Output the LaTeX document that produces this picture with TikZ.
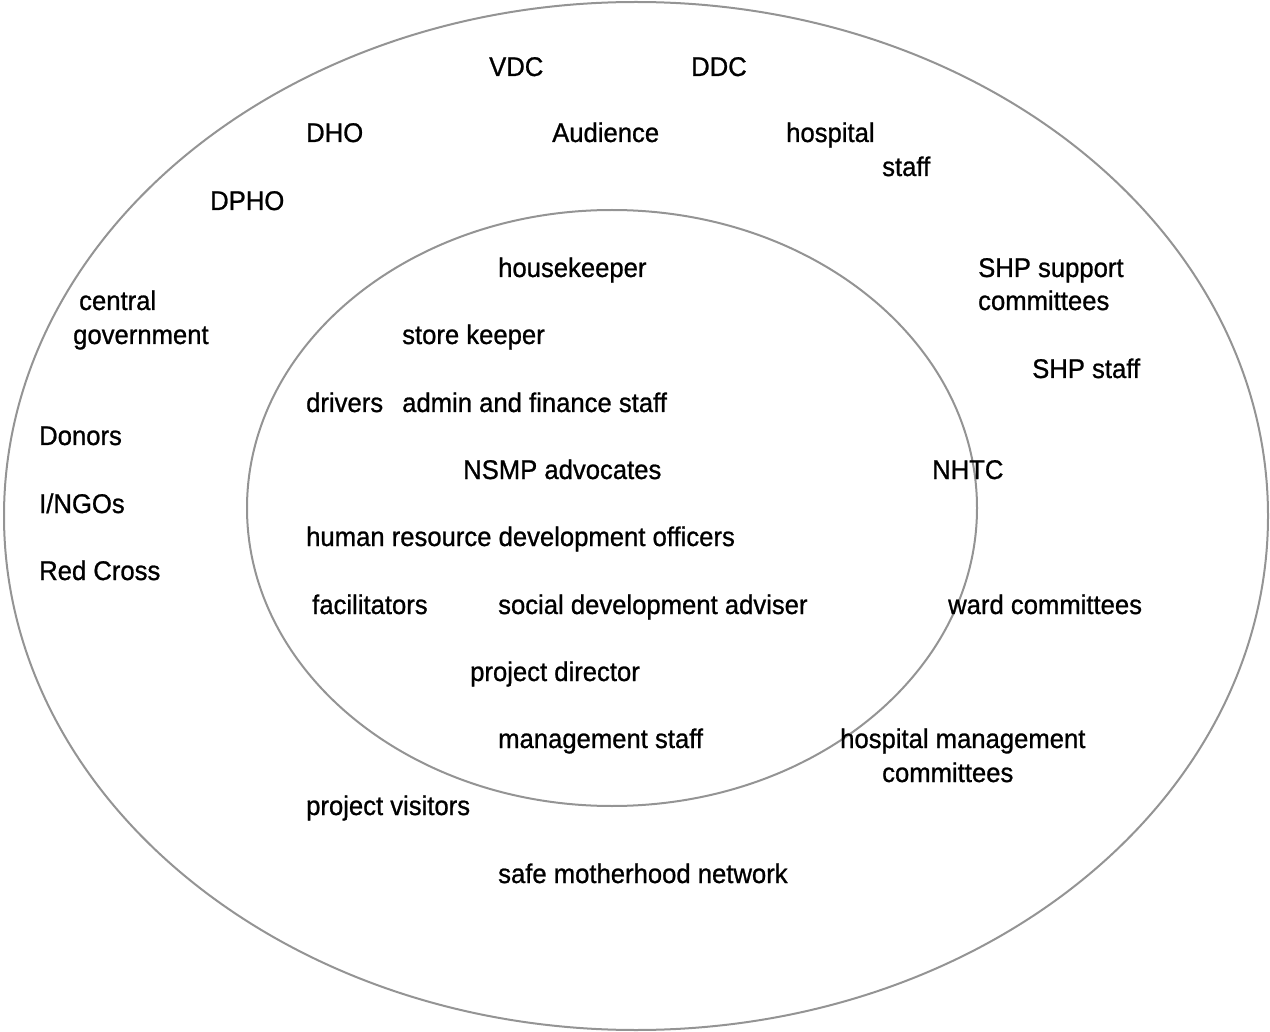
\documentclass[tikz,border=0pt]{standalone}
\usepackage{fontspec}
\setmainfont[FakeBold=0.9,FakeStretch=0.95]{Liberation Sans}
\begin{document}
\begin{tikzpicture}[x=1pt,y=-1pt,
  lbl/.style={anchor=base west,inner sep=0pt,font=\fontsize{27}{31}\selectfont},
  ring/.style={draw=black!42,line width=2pt}]
\useasboundingbox (0,0) rectangle (1270,1032);
\draw[ring] (636,516) ellipse [x radius=632, y radius=514];
\draw[ring] (612,508) ellipse [x radius=365, y radius=298];
\node[lbl] (vdc) at (489,76) {VDC};
\node[lbl] (ddc) at (691,76) {DDC};
\node[lbl] (dho) at (306,142) {DHO};
\node[lbl] (aud) at (552,142) {Audience};
\node[lbl] (hosp) at (786,142) {hospital};
\node[lbl] (staff) at (882,176) {staff};
\node[lbl] (dpho) at (210,210) {DPHO};
\node[lbl] (hk) at (498,277) {housekeeper};
\node[lbl] (shps) at (978,277) {SHP support};
\node[lbl] (shpc) at (978,310) {committees};
\node[lbl] (cen) at (79,310) {central};
\node[lbl] (gov) at (73,344) {government};
\node[lbl] (sk) at (402,344) {store keeper};
\node[lbl] (shpst) at (1032,378) {SHP staff};
\node[lbl] (drv) at (306,412) {drivers};
\node[lbl] (adm) at (402,412) {admin and finance staff};
\node[lbl] (don) at (39,445) {Donors};
\node[lbl] (nsmp) at (463,479) {NSMP advocates};
\node[lbl] (nhtc) at (932,479) {NHTC};
\node[lbl] (ingo) at (39,513) {I/NGOs};
\node[lbl] (hr) at (306,546) {human resource development officers};
\node[lbl] (rc) at (39,580) {Red Cross};
\node[lbl] (fac) at (312,614) {facilitators};
\node[lbl] (sda) at (498,614) {social development adviser};
\node[lbl] (ward) at (948,614) {ward committees};
\node[lbl] (pd) at (470,681) {project director};
\node[lbl] (ms) at (498,748) {management staff};
\node[lbl] (hm) at (840,748) {hospital management};
\node[lbl] (hmc) at (882,782) {committees};
\node[lbl] (pv) at (306,815) {project visitors};
\node[lbl] (smn) at (498,883) {safe motherhood network};
\end{tikzpicture}
\end{document}
